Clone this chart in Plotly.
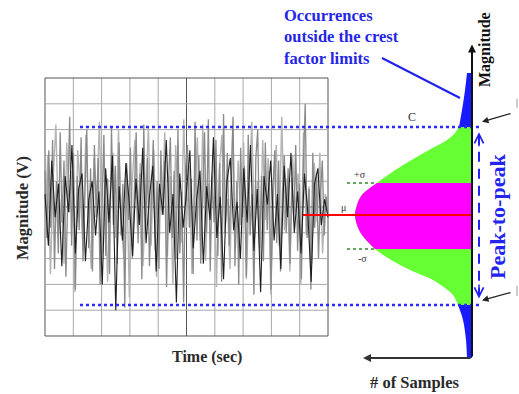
import numpy as np
import plotly.graph_objects as go

# ---------------- data ----------------
# waveform samples (magnitude in grid divisions): light, medium and dark strokes
WAVE_LIGHT = [
    -0.8, 2.0, -2.6, 1.1, 3.2, -1.0, 0.3, -2.2, 2.5, -0.2, 1.4, -3.3, 2.2, 0.6, -1.7,
    2.8, -0.5, -2.4, 1.9, 0.2, 3.3, -1.8, 1.0, -2.9, 0.7, 2.1, -1.2, 3.0, -0.6, -2.0,
    1.5, -3.5, 0.9, 2.6, -0.9, 1.7, -2.3, 0.4, 3.1, -1.5, 2.2, -2.7, 0.8, -0.3, 2.9,
    -1.9, 1.2, -3.0, 2.4, 0.1, -1.4, 3.4, -0.8, 1.6, -2.6, 0.5, 2.7, -1.3, 3.2, -2.1,
    0.9, -0.4, 2.3, -3.1, 1.4, 2.8, -1.0, 0.3, -2.4, 3.0, -1.6, 1.8, -0.7, 2.5, -2.8,
    0.6, 3.3, -1.2, 1.0, -2.0, 2.6, -0.5, 1.9, -3.4, 0.7, 2.4, -1.5, 3.5, -0.9, 1.1,
    -2.5, 2.0, -0.2, 1.3, -3.0, 2.9, -1.1, 0.8, -2.2, 1.7, -0.6, 2.1, -1.8, 0.5, -0.2,
]
WAVE_GREY = [
    1.4, -1.2, 2.2, -0.8, 2.6, -2.4, 1.0, -1.8, 2.9, -0.6, 1.8, -2.7, 0.4, 3.5, -1.5,
    2.1, -3.2, 1.2, -0.9, 2.7, -2.1, 0.8, 3.0, -1.6, 1.5, -2.5, 2.4, -0.4, 1.9, -3.0,
    0.6, 2.8, -1.9, 1.1, -2.6, 3.1, -0.7, 1.6, -2.2, 2.5, -1.1, 0.9, -3.9, 1.7, -0.5,
    2.3, -2.0, 0.5, 2.9, -1.4, 1.3, -2.8, 3.2, -0.9, 1.9, -2.3, 0.7, 2.6, -1.7, 1.0,
    -2.4, 2.2, -0.3, 1.8, -3.1, 0.9, 2.7, -1.2, 1.4, -2.0, 3.0, -1.8, 0.6, -3.7, 1.5,
    2.4, -0.8, 1.1, -2.6, 3.3, -1.3, 2.0, -2.2, 0.4, 2.9, -1.0, 3.4, -2.5, 1.2, -0.6,
    2.6, -1.9, 1.7, -2.9, 3.6, -0.7, 2.1, -1.5, 0.8, 3.5, -2.3, 1.0, -3.0, 2.3, -0.4,
    1.6, -2.7, 2.8, -1.1, 0.5, -3.4, 1.9, 3.0, -1.6, 1.2, -2.1, 2.5, -0.9, 1.4, -3.2,
    0.8, 2.2, -1.4, 1.8, -2.5, 0.6, 2.0, -1.0, 1.5, -2.2, 1.1, -0.6, 2.4, -1.7, 0.9,
    -2.8, 1.6, 4.0, -1.2, 0.7, -3.2, 2.1, -0.8, 1.3, -2.0, 0.5, 1.8, -1.1, 0.4, -0.3,
]
WAVE_DARK = [
    0.5, -1.5, 1.8, -0.4, 0.9, -2.3, 1.2, -0.2, 2.4, -1.8, 0.7, 1.3, -2.1, 0.3, 1.0,
    -1.1, 0.6, -3.0, 1.5, -0.6, 2.0, -4.0, 0.8, -1.3, 1.7, 0.2, -1.9, 1.1, -0.7, 2.3,
    -1.4, 0.4, 1.6, -2.5, 0.9, -0.3, 2.6, -1.0, 0.5, -3.7, 1.3, -0.8, 0.6, 2.2, -1.6,
    0.3, 1.4, -2.2, 0.8, -0.5, 2.7, -1.2, 0.4, -2.8, 1.0, 1.9, -0.9, 0.2, -2.0, 1.5,
    -0.6, 2.4, -1.7, 0.7, -3.3, 1.2, 0.1, 1.8, -1.3, 0.5, -2.4, 1.6, -0.4, 2.1, -1.0,
    0.6, -1.8, 1.3, -0.2, -2.9, 0.9, 1.5, -0.7, 0.3, -0.4,
]
TIME_TICKS = list(range(0, 11))        # vertical grid lines (sec divisions)
MAG_TICKS = list(range(-5, 6))         # horizontal grid lines (V divisions)

# distribution of samples (magnitude level -> number of samples)
DIST_MAG = [5.19, 4.53, 3.76, 3.10, 2.87, 2.60, 2.21, 1.90, 1.55, 1.24, 0.93, 0.47, 0.08,
            -0.31, -0.70, -1.09, -1.63, -2.25, -2.56, -2.83, -3.14, -3.41, -3.80, -4.38,
            -5.16, -5.85]
DIST_COUNT = [5, 7, 10, 13, 17, 25, 43, 57, 72, 84, 95, 110, 115,
              117, 115, 110, 97, 72, 55, 39, 27, 19, 14, 9,
              6, 5]

C_UPPER = 3.10
C_LOWER = -3.80
SIGMA_UP = 0.93
SIGMA_DN = -1.63
MU = -0.31

# ---------------- figure ----------------
W, H = 519, 394
fig = go.Figure()

for vals, col, wd in ((WAVE_LIGHT, "#b4b4b4", 1.4), (WAVE_GREY, "#8a8a8a", 1.3), (WAVE_DARK, "#1e1e1e", 1.1)):
    fig.add_trace(go.Scatter(x=np.linspace(0, 10, len(vals)), y=vals, mode="lines",
                             line=dict(color=col, width=wd), hoverinfo="skip"))

mag = np.array(DIST_MAG)
cnt = np.array(DIST_COUNT)

def band(lo, hi, color):
    sel = (mag >= lo - 1e-9) & (mag <= hi + 1e-9)
    fig.add_trace(go.Scatter(x=cnt[sel], y=mag[sel], xaxis="x2", yaxis="y",
                             mode="lines", line=dict(width=0, color=color, shape="spline"),
                             fill="tozerox", fillcolor=color, hoverinfo="skip"))

band(C_LOWER, C_UPPER, "#66ff33")
band(SIGMA_DN, SIGMA_UP, "#ff00ff")
band(C_UPPER, max(DIST_MAG), "#1a1aff")
band(min(DIST_MAG), C_LOWER, "#1a1aff")

shapes = []
# grid
for t in TIME_TICKS:
    dark = t in (0, 5, 10)
    shapes.append(dict(type="line", xref="x", yref="y", x0=t, x1=t, y0=-5, y1=5, layer="below",
                       line=dict(color="#555555" if dark else "#a8a8a8", width=1)))
for m in MAG_TICKS:
    dark = m in (-5, 0, 5)
    shapes.append(dict(type="line", xref="x", yref="y", x0=0, x1=10, y0=m, y1=m, layer="below",
                       line=dict(color="#555555" if dark else "#a8a8a8", width=1)))

# crest factor limit lines
for c in (C_UPPER, C_LOWER):
    shapes.append(dict(type="line", xref="x2", yref="y", x0=392, x1=-10, y0=c, y1=c,
                       line=dict(color="#2b2bff", width=2.5, dash="dot")))
# sigma lines
for s in (SIGMA_UP, SIGMA_DN):
    shapes.append(dict(type="line", xref="x2", yref="y", x0=125, x1=96, y0=s, y1=s,
                       line=dict(color="#2e8b2e", width=1.6, dash="dot")))
# mean line
shapes.append(dict(type="line", xref="x2", yref="y", x0=169, x1=0, y0=MU, y1=MU,
                   line=dict(color="#ff0000", width=2)))
# pointer from label to tail
shapes.append(dict(type="line", xref="x2", yref="y", x0=90, x1=12, y0=5.775, y1=4.225,
                   line=dict(color="#2020ee", width=2)))
# peak-to-peak dashed line
shapes.append(dict(type="line", xref="x2", yref="y", x0=-7, x1=-7, y0=C_UPPER - 0.3, y1=C_LOWER + 0.35,
                   line=dict(color="#2222ee", width=2, dash="10px,7px")))
# cut marks at right edge
for y0, y1 in ((4.2, 3.85), (-3.05, -3.45)):
    shapes.append(dict(type="line", xref="x2", yref="y", x0=-45, x1=-45, y0=y0, y1=y1,
                       line=dict(color="#bbbbbb", width=1.5)))

annotations = []
# distribution axes (arrows)
annotations.append(dict(x=0, y=6.3, xref="x2", yref="y", ax=0, ay=-5.85, axref="x2", ayref="y",
                        showarrow=True, arrowhead=2, arrowsize=0.8, arrowwidth=2, arrowcolor="#111111", text=""))
annotations.append(dict(x=109, y=-5.85, xref="x2", yref="y", ax=0, ay=-5.85, axref="x2", ayref="y",
                        showarrow=True, arrowhead=2, arrowsize=0.8, arrowwidth=2, arrowcolor="#333333", text=""))
# peak-to-peak arrowheads
annotations.append(dict(x=-7, y=C_UPPER - 0.2, xref="x2", yref="y", ax=-7, ay=C_UPPER - 0.8,
                        axref="x2", ayref="y", showarrow=True, arrowhead=5, arrowsize=1.2,
                        arrowwidth=1.5, arrowcolor="#2222ee", text=""))
annotations.append(dict(x=-7, y=C_LOWER + 0.25, xref="x2", yref="y", ax=-7, ay=C_LOWER + 0.85,
                        axref="x2", ayref="y", showarrow=True, arrowhead=5, arrowsize=1.2,
                        arrowwidth=1.5, arrowcolor="#2222ee", text=""))
# small black pointers to the crest lines
for (xh, yh, xt, yt) in ((-10, 3.30, -40, 3.64), (-10, -3.62, -40, -3.30)):
    annotations.append(dict(x=xh, y=yh, xref="x2", yref="y", ax=xt, ay=yt, axref="x2", ayref="y",
                            showarrow=True, arrowhead=2, arrowsize=1, arrowwidth=1.3,
                            arrowcolor="#222222", text=""))

SERIF = "Liberation Serif, Times New Roman, serif"
def txt(text, x, y, size, color, xref="paper", yref="paper", angle=0, align="center", xanchor="center"):
    annotations.append(dict(text=text, x=x, y=y, xref=xref, yref=yref, showarrow=False,
                            font=dict(family=SERIF, size=size, color=color), textangle=angle,
                            align=align, xanchor=xanchor, yanchor="middle"))

txt("<b>Occurrences<br>outside the crest<br>factor limits</b>", 282 / W, 1 - 37 / H, 16.5, "#2525e6",
    align="left", xanchor="left")
txt("<b>Magnitude (V)</b>", 22 / W, 1 - 208 / H, 16.5, "#2a2a2a", angle=-90)
txt("<b>Time (sec)</b>", 207 / W, 1 - 357 / H, 16, "#2a2a2a")
txt("<b># of Samples</b>", 415 / W, 1 - 382 / H, 16.5, "#2a2a2a")
txt("<b>Magnitude</b>", 485 / W, 1 - 50 / H, 16, "#111111", angle=-90)
txt("<b>Peak-to-peak</b>", 497 / W, 1 - 217 / H, 22, "#2424ee", angle=-90)
txt("C", 60, C_UPPER + 0.37, 12, "#333333", xref="x2", yref="y")
txt("+σ", 112, SIGMA_UP + 0.32, 10, "#333333", xref="x2", yref="y")
txt("μ", 129, MU + 0.3, 10, "#333333", xref="x2", yref="y")
txt("-σ", 110, SIGMA_DN - 0.35, 10, "#333333", xref="x2", yref="y")

PX_X = 28.3     # pixels per time division
PX_Y = 25.8     # pixels per magnitude division
fig.update_layout(
    width=W, height=H, margin=dict(l=0, r=0, t=0, b=0, pad=0),
    paper_bgcolor="white", plot_bgcolor="white", showlegend=False,
    xaxis=dict(domain=[0, 1], range=[-45 / PX_X, (W - 45) / PX_X], visible=False, fixedrange=True),
    xaxis2=dict(domain=[0, 1], overlaying="x", anchor="y", range=[472, 472 - W], visible=False),
    yaxis=dict(domain=[0, 1], range=[-(H - 207) / PX_Y, 207 / PX_Y], visible=False),
    shapes=shapes, annotations=annotations,
)
fig.write_html("out.html", config={"displayModeBar": False},
               post_script="document.body.style.margin='0';document.body.style.overflow='hidden';")
